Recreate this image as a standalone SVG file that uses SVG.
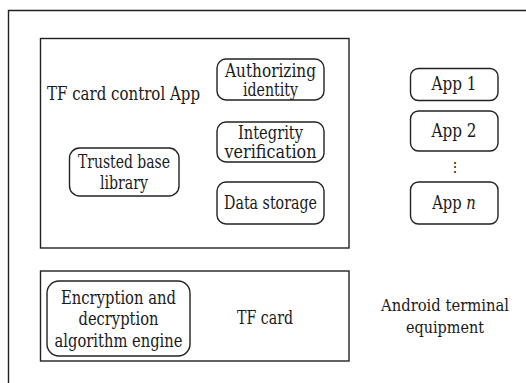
<svg xmlns="http://www.w3.org/2000/svg" width="526" height="383" viewBox="0 0 526 383">
<style>
.box{fill:none;stroke:#222;stroke-width:1.4}
.rbox{fill:#fff;stroke:#222;stroke-width:1.4}
text{font-family:"DejaVu Serif","Liberation Serif",serif;font-size:18px;fill:#1a1a1a;text-anchor:middle}
</style>
<rect width="526" height="383" fill="#fff"/>
<g id="android-terminal">
<path class="box" d="M8.5,383 V10.5 H526"/>
<text x="445" y="311" style="font-size:16.5px" textLength="128" lengthAdjust="spacingAndGlyphs">Android terminal</text>
<text x="445" y="333" style="font-size:16.5px" textLength="78" lengthAdjust="spacingAndGlyphs">equipment</text>
</g>
<g id="tf-card-control-app">
<rect class="box" x="40.5" y="38.5" width="308.5" height="209.5"/>
<text x="123.5" y="100" textLength="153" lengthAdjust="spacingAndGlyphs">TF card control App</text>
</g>
<g id="authorizing-identity">
<rect class="rbox" x="217" y="59" width="107" height="41" rx="9"/>
<text x="270.5" y="77" textLength="91" lengthAdjust="spacingAndGlyphs">Authorizing</text>
<text x="270.5" y="96" textLength="55" lengthAdjust="spacingAndGlyphs">identity</text>
</g>
<g id="integrity-verification">
<rect class="rbox" x="217" y="122" width="107" height="40" rx="9"/>
<text x="270.5" y="139" textLength="65" lengthAdjust="spacingAndGlyphs">Integrity</text>
<text x="270.5" y="158" textLength="92" lengthAdjust="spacingAndGlyphs">verification</text>
</g>
<g id="data-storage">
<rect class="rbox" x="217" y="182" width="107" height="42" rx="9"/>
<text x="270.5" y="209" textLength="93" lengthAdjust="spacingAndGlyphs">Data storage</text>
</g>
<g id="trusted-base-library">
<rect class="rbox" x="69.5" y="148" width="109.5" height="48" rx="10"/>
<text x="124" y="168" textLength="92" lengthAdjust="spacingAndGlyphs">Trusted base</text>
<text x="124" y="189" textLength="48" lengthAdjust="spacingAndGlyphs">library</text>
</g>
<g id="app-1">
<rect class="rbox" x="410.5" y="68.5" width="87.5" height="32" rx="8"/>
<text x="454" y="90" textLength="45" lengthAdjust="spacingAndGlyphs">App 1</text>
</g>
<g id="app-2">
<rect class="rbox" x="410.5" y="111" width="87.5" height="40" rx="8"/>
<text x="454" y="137" textLength="45" lengthAdjust="spacingAndGlyphs">App 2</text>
</g>
<g id="ellipsis">
<text x="455" y="172" style="font-size:14px">⋮</text>
</g>
<g id="app-n">
<rect class="rbox" x="410.5" y="182" width="87.5" height="42" rx="8"/>
<text transform="translate(454,209) scale(0.82,1)" x="0" y="0">App <tspan font-style="italic">n</tspan></text>
</g>
<g id="tf-card">
<rect class="box" x="40.5" y="271" width="308.5" height="90"/>
<text x="265" y="324" textLength="56" lengthAdjust="spacingAndGlyphs">TF card</text>
</g>
<g id="encryption-engine">
<rect class="rbox" x="47" y="281" width="143" height="75" rx="12"/>
<text x="118.5" y="304" textLength="115" lengthAdjust="spacingAndGlyphs">Encryption and</text>
<text x="118.5" y="325" textLength="80" lengthAdjust="spacingAndGlyphs">decryption</text>
<text x="118.5" y="347" textLength="128" lengthAdjust="spacingAndGlyphs">algorithm engine</text>
</g>
<g id="connectors"></g>
</svg>
